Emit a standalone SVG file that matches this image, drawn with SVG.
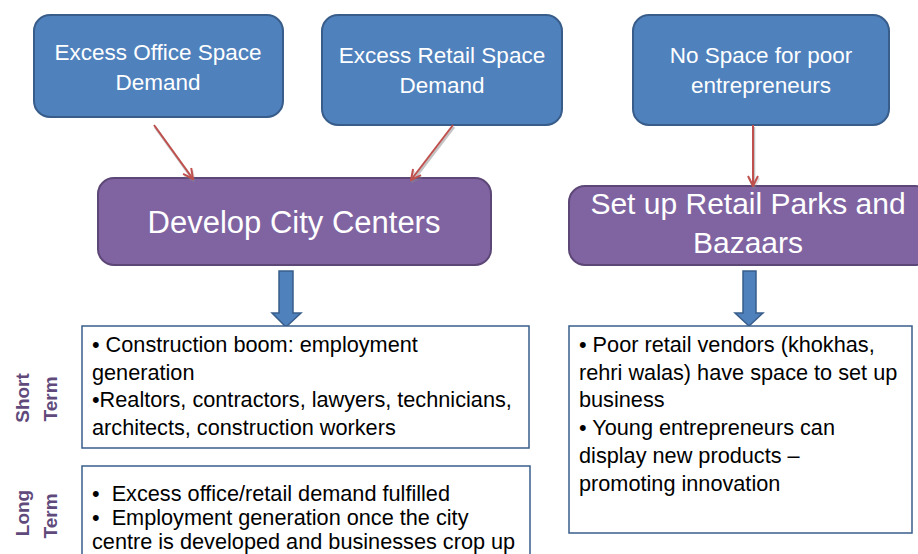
<svg xmlns="http://www.w3.org/2000/svg" width="918" height="554" viewBox="0 0 918 554">
<defs>
<marker id="red" viewBox="0 0 12 12" refX="11" refY="6" markerWidth="12" markerHeight="12" markerUnits="userSpaceOnUse" orient="auto">
<path d="M1,1 L11,6 L1,11" fill="none" stroke="#C0504D" stroke-width="2"/>
</marker>
<marker id="grey" viewBox="0 0 12 12" refX="11" refY="6" markerWidth="12" markerHeight="12" markerUnits="userSpaceOnUse" orient="auto">
<path d="M1,1 L11,6 L1,11" fill="none" stroke="#888" stroke-width="2.5" opacity="0.5"/>
</marker>
</defs>
<style>
.blue{fill:#4F81BD;stroke:#385D8A;stroke-width:2}
.purple{fill:#8064A2;stroke:#5C4776;stroke-width:2}
.box{fill:#FFFFFF;stroke:#385D8A;stroke-width:1.5}
.t{font-family:"Liberation Sans",Arial,sans-serif;fill:#FFFFFF;text-anchor:middle}
.b{font-family:"Liberation Sans",Arial,sans-serif;fill:#000000;font-size:21.7px}
.lab{font-family:"Liberation Sans",Arial,sans-serif;fill:#604A7B;font-size:19px;font-weight:bold;text-anchor:middle}
.ra{stroke:#C0504D;stroke-width:2;fill:none}
.sh{stroke:#888;stroke-width:2.5;fill:none;opacity:0.5}
.blk{fill:#4F81BD;stroke:#385D8A;stroke-width:1.5}
</style>
<rect width="918" height="554" fill="#FFFFFF"/>

<g id="office-demand">
<rect class="blue" x="34" y="15" width="249" height="102" rx="16"/>
<text class="t" font-size="22.5" x="158" y="60">Excess Office Space</text>
<text class="t" font-size="22.5" x="158" y="90">Demand</text>
</g>

<g id="retail-demand">
<rect class="blue" x="322" y="15" width="240" height="110" rx="16"/>
<text class="t" font-size="22.5" x="442" y="63">Excess Retail Space</text>
<text class="t" font-size="22.5" x="442" y="93">Demand</text>
</g>

<g id="no-space">
<rect class="blue" x="633" y="15" width="256" height="110" rx="16"/>
<text class="t" font-size="22.5" x="761" y="63">No Space for poor</text>
<text class="t" font-size="22.5" x="761" y="93">entrepreneurs</text>
</g>

<g id="city-centers">
<rect class="purple" x="98" y="178" width="393" height="87" rx="16"/>
<text class="t" font-size="31" x="294" y="233">Develop City Centers</text>
</g>

<g id="retail-parks">
<rect class="purple" x="569" y="186" width="362" height="79" rx="16"/>
<text class="t" font-size="30" x="748" y="214">Set up Retail Parks and</text>
<text class="t" font-size="30" x="748" y="253">Bazaars</text>
</g>

<g id="connectors">
<line class="sh" x1="155" y1="127" x2="194" y2="181" marker-end="url(#grey)"/>
<line class="sh" x1="454" y1="127" x2="412" y2="182" marker-end="url(#grey)"/>
<line class="sh" x1="754" y1="127" x2="754" y2="188" marker-end="url(#grey)"/>
<line class="ra" x1="154" y1="125" x2="193" y2="179" marker-end="url(#red)"/>
<line class="ra" x1="453" y1="125" x2="411" y2="180" marker-end="url(#red)"/>
<line class="ra" x1="753" y1="125" x2="753" y2="186" marker-end="url(#red)"/>
<path class="blk" d="M279,271 L293,271 L293,313 L301,313 L286,327 L272,313 L279,313 Z"/>
<path class="blk" d="M743,271 L756,271 L756,313 L763,313 L749,326 L735,313 L743,313 Z"/>
</g>

<g id="short-term">
<rect class="box" x="82" y="326" width="447" height="122"/>
<text class="b" x="92" y="352">• Construction boom: employment</text>
<text class="b" x="92" y="380">generation</text>
<text class="b" x="92" y="407">•Realtors, contractors, lawyers, technicians,</text>
<text class="b" x="92" y="435">architects, construction workers</text>
</g>

<g id="long-term">
<rect class="box" x="82" y="466" width="448" height="100"/>
<text class="b" x="92" y="501">•&#160; Excess office/retail demand fulfilled</text>
<text class="b" x="92" y="525">•&#160; Employment generation once the city</text>
<text class="b" x="92" y="549">centre is developed and businesses crop up</text>
</g>

<g id="retail-effects">
<rect class="box" x="569" y="326" width="343" height="207"/>
<text class="b" x="579" y="352">• Poor retail vendors (khokhas,</text>
<text class="b" x="579" y="380">rehri walas) have space to set up</text>
<text class="b" x="579" y="407">business</text>
<text class="b" x="579" y="435">• Young entrepreneurs can</text>
<text class="b" x="579" y="463">display new products –</text>
<text class="b" x="579" y="491">promoting innovation</text>
</g>

<g id="labels">
<text class="lab" transform="translate(29,398) rotate(-90)">Short</text>
<text class="lab" transform="translate(57,399) rotate(-90)">Term</text>
<text class="lab" transform="translate(29,513) rotate(-90)">Long</text>
<text class="lab" transform="translate(57,516) rotate(-90)">Term</text>
</g>
</svg>
